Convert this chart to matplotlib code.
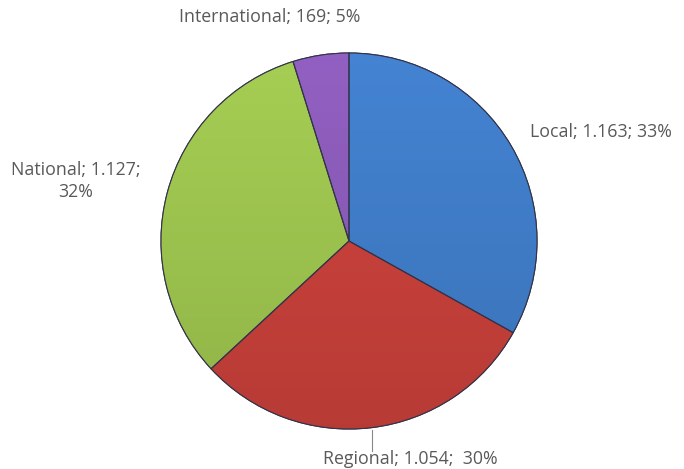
import matplotlib
matplotlib.use("Agg")
import matplotlib.pyplot as plt
import matplotlib.colors as mcolors
from matplotlib.patches import Wedge
import numpy as np

categories = ["Local", "Regional", "National", "International"]
values = [1163, 1054, 1127, 169]
colors = ["#3F7CC8", "#C8403A", "#9DC44E", "#8A5AB8"]

W, H = 684, 469
fig = plt.figure(figsize=(W / 100, H / 100), dpi=100)
ax = fig.add_axes([0, 0, 1, 1])

cx, cy, r = 349, H - 241, 188
wedges, _ = ax.pie(values, colors=colors, startangle=90, counterclock=False,
                   center=(cx, cy), radius=r, frame=True,
                   wedgeprops=dict(edgecolor="#33334a", linewidth=0.8))
ax.set_xlim(0, W)
ax.set_ylim(0, H)
ax.set_aspect("equal")
ax.axis("off")

# subtle vertical shading inside each slice (lighter top, darker bottom)
yy = np.linspace(1, 0, 256).reshape(-1, 1)
for w, c in zip(wedges, colors):
    base = np.array(mcolors.to_rgb(c))
    light = np.clip(base * 1.04 + 0.01, 0, 1)
    dark = base * 0.92
    img = dark[None, None, :] + (light - dark)[None, None, :] * yy[:, :, None]
    im = ax.imshow(img, extent=(cx - r, cx + r, cy - r, cy + r), origin="upper",
                   zorder=w.get_zorder() + 0.1, interpolation="bilinear")
    im.set_clip_path(w)
    edge = Wedge(w.center, w.r, w.theta1, w.theta2, facecolor="none",
                 edgecolor="#33334a", linewidth=0.8, zorder=w.get_zorder() + 0.2)
    ax.add_patch(edge)
ax.set_xlim(0, W)
ax.set_ylim(0, H)

total = sum(values)
def fmt(v):
    return f"{v:,}".replace(",", ".")
labels = [f"{c}; {fmt(v)}; {round(100 * v / total)}%" for c, v in zip(categories, values)]

font = dict(family=["Open Sans", "DejaVu Sans"], fontsize=12.8, color="#595959")
# Local
ax.text(530, H - 132, labels[0], ha="left", va="center", **font)
# Regional
ax.text(410, H - 459, labels[1].replace("; 30", ";  30"), ha="center", va="center", **font)
ax.plot([372, 372], [H - 430, H - 451], color="#888888", lw=0.8)
# National (two lines)
parts = labels[2].rsplit(" ", 1)
ax.text(76, H - 181, parts[0] + "\n" + parts[1], ha="center", va="center",
        linespacing=1.3, **font)
# International
ax.text(270, H - 17, labels[3], ha="center", va="center", **font)

fig.savefig("out.png", dpi=100)
